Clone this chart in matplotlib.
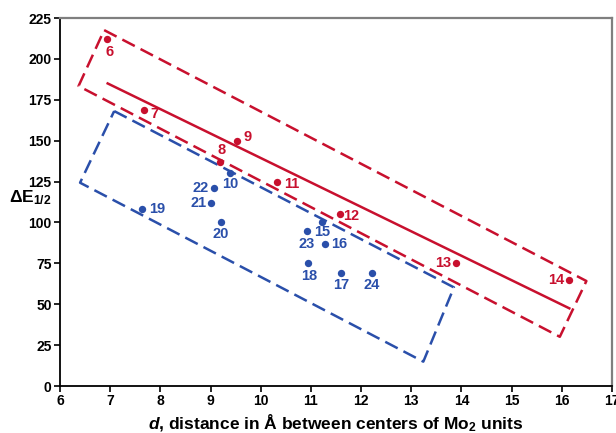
import matplotlib
matplotlib.use("Agg")
import matplotlib.pyplot as plt

plt.rcParams['font.family'] = ['Liberation Sans', 'DejaVu Sans']
plt.rcParams['font.weight'] = 'bold'
plt.rcParams['mathtext.fontset'] = 'custom'
plt.rcParams['mathtext.rm'] = 'Liberation Sans:bold'
plt.rcParams['mathtext.it'] = 'Liberation Sans:bold:italic'
plt.rcParams['mathtext.bf'] = 'Liberation Sans:bold'

RED = '#c8102e'
BLUE = '#2a4faa'

# Red series (compounds 6-14)
red_labels = ['6', '7', '8', '9', '11', '12', '13', '14']
red_x = [6.94, 7.67, 9.19, 9.52, 10.33, 11.57, 13.90, 16.14]
red_y = [212, 169, 137, 150, 125, 105, 75, 65]

# Blue series (compounds 10, 15-24)
blue_labels = ['10', '15', '16', '17', '18', '19', '20', '21', '22', '23', '24']
blue_x = [9.39, 11.22, 11.29, 11.60, 10.94, 7.63, 9.20, 9.00, 9.06, 10.92, 12.22]
blue_y = [130, 100, 87, 69, 75, 108, 100, 112, 121, 95, 69]

# label placement (pixel offsets)
offsets = {
    '6': (2, -13), '7': (11, -4), '8': (1, 12), '9': (11, 4), '11': (14, -2),
    '12': (12, -2), '13': (-13, 0), '14': (-13, 0),
    '10': (0, -11), '15': (0, -10), '16': (14, 0), '17': (0, -12), '18': (1, -13),
    '19': (15, 0), '20': (0, -12), '21': (-12, 0), '22': (-13, 0), '23': (0, -13),
    '24': (0, -12),
}

# Trend line and envelopes
fit_x = [6.95, 16.15]
fit_y = [185, 47.5]
red_box_x = [6.88, 16.49, 15.96, 6.37, 6.88]
red_box_y = [217.6, 64.2, 30.1, 183.4, 217.6]
blue_box_x = [7.08, 13.85, 13.24, 6.40, 7.08]
blue_box_y = [168.1, 60.3, 14.9, 124.3, 168.1]

fig = plt.figure(figsize=(6.16, 4.33), dpi=100)
ax = fig.add_axes([0.0974, 0.1085, 0.8961, 0.8499])

dash = (5.6, 2.6)
ax.plot(red_box_x, red_box_y, color=RED, lw=1.8, dashes=dash, zorder=2)
ax.plot(blue_box_x, blue_box_y, color=BLUE, lw=1.8, dashes=dash, zorder=2)
ax.plot(fit_x, fit_y, color=RED, lw=1.8, zorder=2)

ax.scatter(red_x, red_y, s=28, color=RED, zorder=3, linewidths=0)
ax.scatter(blue_x, blue_y, s=28, color=BLUE, zorder=3, linewidths=0)

for lab, x, y in zip(red_labels, red_x, red_y):
    ax.annotate(lab, (x, y), xytext=offsets[lab], textcoords='offset pixels',
                ha='center', va='center', color=RED, fontsize=10.5, fontweight='bold')
for lab, x, y in zip(blue_labels, blue_x, blue_y):
    ax.annotate(lab, (x, y), xytext=offsets[lab], textcoords='offset pixels',
                ha='center', va='center', color=BLUE, fontsize=10.5, fontweight='bold')

ax.set_xlim(6, 17)
ax.set_ylim(0, 225)
ax.set_xticks(range(6, 18))
ax.set_yticks(range(0, 226, 25))
ax.tick_params(axis='both', direction='out', length=4, width=1.2, labelsize=10, pad=2)
ax.tick_params(top=False, right=False)
for lab in ax.get_xticklabels() + ax.get_yticklabels():
    lab.set_fontweight('bold')

for s in ['left', 'bottom']:
    ax.spines[s].set_color('black')
    ax.spines[s].set_linewidth(1.3)
for s in ['top', 'right']:
    ax.spines[s].set_color('#7f7f7f')
    ax.spines[s].set_linewidth(1.6)

ax.set_xlabel(r'$d$, distance in Å between centers of Mo$_2$ units',
              fontsize=12.5, fontweight='bold', labelpad=3)
ax.text(-0.054, 0.511, r'$\Delta$E$_{1/2}$', transform=ax.transAxes,
        ha='center', va='center', fontsize=12.5, fontweight='bold')

fig.savefig('out.png', dpi=100)
